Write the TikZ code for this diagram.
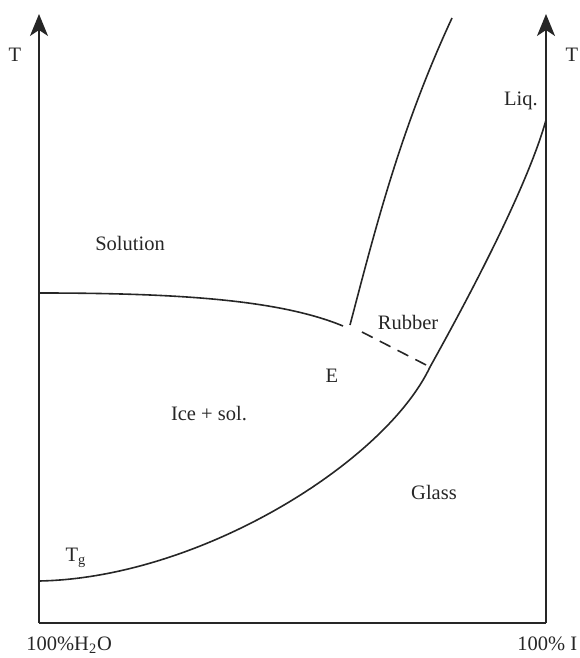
\documentclass[tikz,border=0pt]{standalone}
\usepackage{fontspec}
\setmainfont{Liberation Serif}
\usetikzlibrary{arrows.meta}

\begin{document}
\begin{tikzpicture}[x=0.5pt,y=-0.5pt,
    every node/.style={font=\fontsize{10.25}{12}\selectfont,inner sep=0pt,text=black!85},
    axis/.style={line width=1pt,black!85},
    up/.style={-{Stealth[length=11pt,width=9pt,inset=3pt]}},
    phase/.style={line width=0.8pt,black!85}]
  \useasboundingbox (0,0) rectangle (579,658);
  % axes
  \coordinate (orig) at (39,623);
  \coordinate (dry) at (546,623);
  \coordinate (ltop) at (39,14);
  \coordinate (rtop) at (546,14);
  \draw[axis,up] (orig) -- (ltop);
  \draw[axis,up] (dry) -- (rtop);
  \draw[axis] (orig) -- (dry);
  % phase boundaries
  \coordinate (tm0) at (39,293);
  \coordinate (eut) at (343,326);
  \coordinate (tmE) at (350,325);
  \coordinate (tmTop) at (452,18);
  \coordinate (tg0) at (39,581);
  \coordinate (tgE) at (430,367);
  \coordinate (liq) at (546,120);
  \draw[phase] (tm0) .. controls (180,293) and (280,300) .. (eut);
  \draw[phase] (tmE) .. controls (375,230) and (400,130) .. (tmTop);
  \draw[phase] (tg0) .. controls (200,578) and (385,462) .. (tgE)
                      .. controls (455,322) and (525,195) .. (liq);
  \draw[phase,dash pattern=on 6pt off 4pt] (362,332) -- (tgE);
  % labels
  \node (tl) at (15,55) {T};
  \node (tr) at (572,55) {T};
  \node (lq) at (521,101) {Liq.};
  \node (sol) at (130,243) {Solution};
  \node (rub) at (408,322) {Rubber};
  \node (e) at (332,376) {E};
  \node (ice) at (209,414) {Ice + sol.};
  \node (gl) at (434,492) {Glass};
  \node (tg) at (76,558) {T\textsubscript{g}};
  \node[anchor=base west] (water) at (26,650) {100\%H\textsubscript{2}O};
  \node[anchor=base west] (solid) at (517,650) {100\% I};
\end{tikzpicture}
\end{document}
